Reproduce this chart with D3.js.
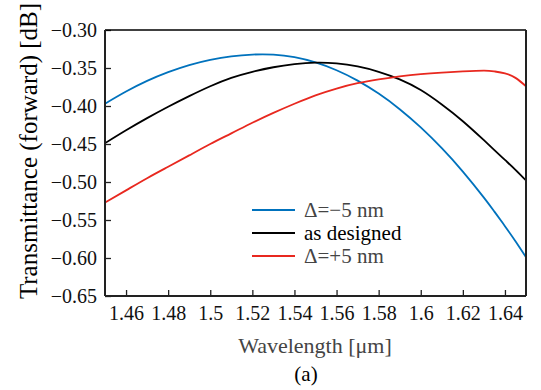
<!DOCTYPE html>
<html lang="en">
<head>
<meta charset="utf-8">
<title>Transmittance (forward)</title>
<script src="https://d3js.org/d3.v7.min.js"></script>
<style>
  body { margin: 0; background: #fff; }
</style>
</head>
<body>
<script>
// wavelength samples [um]
const wavelength = [1.45, 1.46, 1.47, 1.48, 1.49, 1.50, 1.51, 1.52, 1.53, 1.54, 1.55,
                    1.56, 1.57, 1.58, 1.59, 1.60, 1.61, 1.62, 1.63, 1.635, 1.64, 1.645, 1.65];

// transmittance [dB]
const minus5 = [-0.397, -0.381, -0.367, -0.3555, -0.3462, -0.3393, -0.3346, -0.3323, -0.3324, -0.3358, -0.3427,
                -0.353, -0.3666, -0.3837, -0.4042, -0.4282, -0.4555, -0.4863, -0.5205, -0.539, -0.5581, -0.578, -0.599];
const designed = [-0.449, -0.432, -0.416, -0.401, -0.387, -0.374, -0.363, -0.355, -0.349, -0.345, -0.343,
                  -0.344, -0.348, -0.355, -0.365, -0.379, -0.398, -0.420, -0.445, -0.458, -0.471, -0.484, -0.498];
const plus5 = [-0.527, -0.511, -0.495, -0.480, -0.465, -0.450, -0.436, -0.422, -0.409, -0.397, -0.386,
               -0.377, -0.370, -0.365, -0.361, -0.358, -0.356, -0.3545, -0.3535, -0.3545, -0.357, -0.363, -0.374];

const seriesNames = ["\u0394=\u22125 nm", "as designed", "\u0394=+5 nm"];
const seriesColors = ["#0072bd", "#000000", "#e8281f"];
const seriesValues = [minus5, designed, plus5];

const xTicks = [1.46, 1.48, 1.5, 1.52, 1.54, 1.56, 1.58, 1.6, 1.62, 1.64];
const yTicks = [-0.30, -0.35, -0.40, -0.45, -0.50, -0.55, -0.60, -0.65];

const serif = "'Liberation Serif', 'Times New Roman', serif";

const width = 541, height = 390;
const margin = {left: 105, right: 15, top: 30, bottom: 94};

const svg = d3.select("body").append("svg")
    .attr("width", width)
    .attr("height", height)
    .style("font-family", serif);

const x = d3.scaleLinear().domain([1.45, 1.65]).range([margin.left, width - margin.right]);
const y = d3.scaleLinear().domain([-0.65, -0.30]).range([height - margin.bottom, margin.top]);

const minus = s => s.replace("-", "\u2212");

// axes, ticks pointing inward
const bottomAxis = d3.axisBottom(x).tickValues(xTicks).tickSizeInner(-6).tickSizeOuter(0)
    .tickPadding(10).tickFormat(d => String(+d.toFixed(2)));
const leftAxis = d3.axisLeft(y).tickValues(yTicks).tickSizeInner(-6).tickSizeOuter(0)
    .tickPadding(8).tickFormat(d => minus(d3.format(".2f")(d)));

const gx = svg.append("g")
    .attr("transform", "translate(0," + (height - margin.bottom) + ")")
    .call(bottomAxis);
const gy = svg.append("g")
    .attr("transform", "translate(" + margin.left + ",0)")
    .call(leftAxis);

[gx, gy].forEach(g => {
  g.select(".domain").remove();
  g.selectAll(".tick line").attr("stroke", "#222").attr("stroke-width", 1.3);
  g.selectAll(".tick text")
      .style("font-family", serif)
      .style("font-size", "20px")
      .attr("fill", "#111");
});

// line series
const line = d3.line()
    .x((d, i) => x(wavelength[i]))
    .y(d => y(d))
    .curve(d3.curveNatural);

svg.append("clipPath").attr("id", "clip")
  .append("rect")
    .attr("x", margin.left).attr("y", margin.top)
    .attr("width", width - margin.left - margin.right)
    .attr("height", height - margin.top - margin.bottom);

seriesValues.forEach((vals, i) => {
  svg.append("path")
      .datum(vals)
      .attr("clip-path", "url(#clip)")
      .attr("fill", "none")
      .attr("stroke", seriesColors[i])
      .attr("stroke-width", 1.8)
      .attr("d", line);
});

// frame
const x0 = margin.left, x1 = width - margin.right;
const y0 = margin.top, y1 = height - margin.bottom;
svg.append("line").attr("x1", x0).attr("x2", x1).attr("y1", y0).attr("y2", y0)
    .attr("stroke", "#000").attr("stroke-width", 1.5);
svg.append("line").attr("x1", x0).attr("x2", x1).attr("y1", y1).attr("y2", y1)
    .attr("stroke", "#222").attr("stroke-width", 2);
svg.append("line").attr("x1", x0).attr("x2", x0).attr("y1", y0).attr("y2", y1)
    .attr("stroke", "#222").attr("stroke-width", 2);
svg.append("line").attr("x1", x1).attr("x2", x1).attr("y1", y0).attr("y2", y1)
    .attr("stroke", "#222").attr("stroke-width", 2);

// legend
const legend = svg.append("g").attr("transform", "translate(252,210)");
seriesNames.forEach((name, i) => {
  const row = legend.append("g").attr("transform", "translate(0," + (i * 23) + ")");
  row.append("line").attr("x1", 0).attr("x2", 43)
      .attr("stroke", seriesColors[i]).attr("stroke-width", 1.8);
  row.append("text").attr("x", 52).attr("dy", "0.35em")
      .style("font-size", "21px")
      .attr("fill", i === 1 ? "#000" : "#444")
      .text(name);
});

// axis labels
svg.append("text")
    .attr("x", 315).attr("y", 353)
    .attr("text-anchor", "middle")
    .style("font-size", "22px")
    .attr("fill", "#444")
    .text("Wavelength [\u03bcm]");

svg.append("text")
    .attr("x", 306).attr("y", 381)
    .attr("text-anchor", "middle")
    .style("font-size", "21px")
    .attr("fill", "#000")
    .text("(a)");

svg.append("text")
    .attr("transform", "translate(37,151) rotate(-90)")
    .attr("text-anchor", "middle")
    .style("font-size", "25px")
    .attr("fill", "#000")
    .text("Transmittance (forward) [dB]");
</script>
</body>
</html>
